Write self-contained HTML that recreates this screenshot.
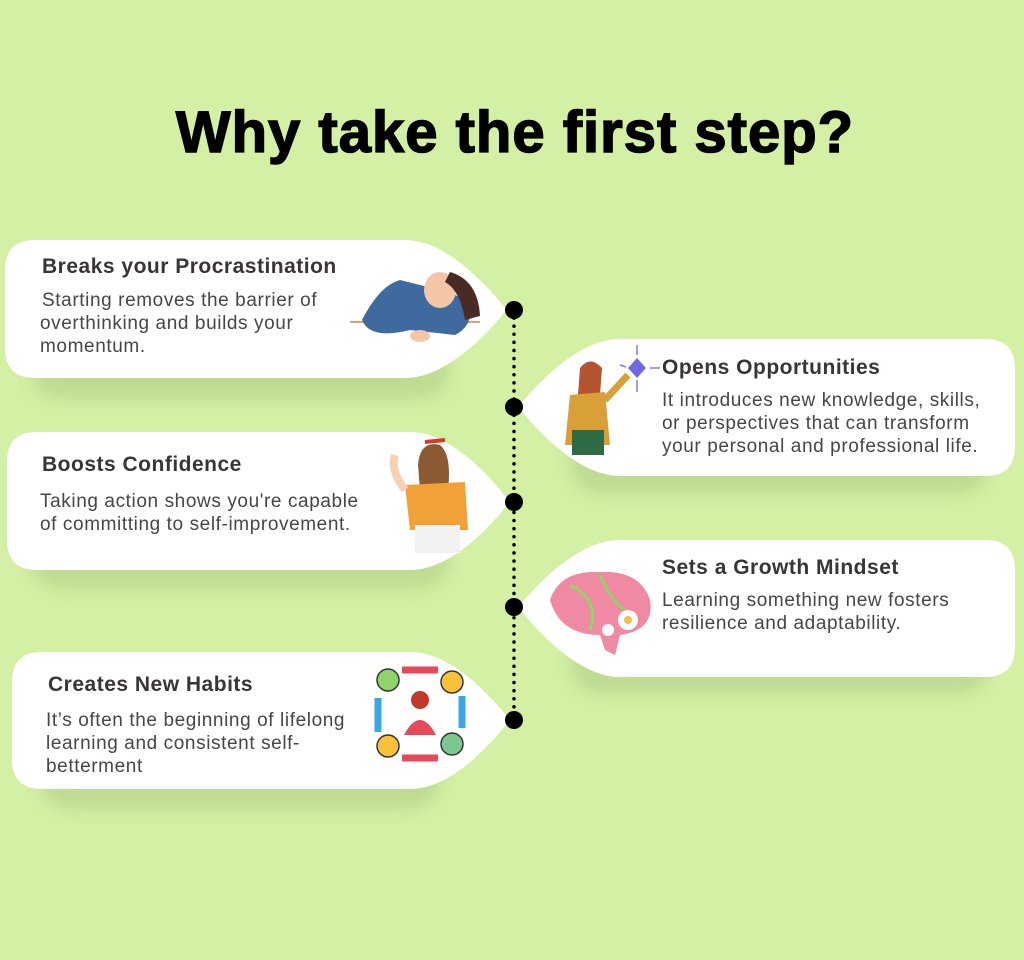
<!DOCTYPE html>
<html><head><meta charset="utf-8"><style>
html,body{margin:0;padding:0;background:#d4f0a5;}
svg{display:block}
.t{font-family:"Liberation Sans",sans-serif;font-weight:bold;fill:#3a3535;font-size:21px;letter-spacing:0.5px}
.b{font-family:"Liberation Sans",sans-serif;fill:#4a4545;font-size:19px;letter-spacing:0.6px}
</style></head><body>
<svg width="1024" height="960" viewBox="0 0 1024 960" xmlns="http://www.w3.org/2000/svg">
<defs><filter id="sh" x="-10%" y="-20%" width="120%" height="160%"><feGaussianBlur stdDeviation="8"/></filter></defs>
<rect width="1024" height="960" fill="#d4f0a5"/>
<text x="515" y="152" text-anchor="middle" font-family="Liberation Sans,sans-serif" font-weight="900" font-size="58" fill="#000" stroke="#000" stroke-width="1.5" letter-spacing="1">Why take the first step?</text>
<g fill="#a9c97f" opacity="0.5" filter="url(#sh)">
<rect x="30" y="330" width="420" height="70" rx="30"/>
<rect x="30" y="520" width="420" height="70" rx="30"/>
<rect x="40" y="740" width="400" height="70" rx="30"/>
<rect x="570" y="425" width="420" height="70" rx="30"/>
<rect x="570" y="625" width="420" height="70" rx="30"/>
</g>
<g fill="#fff">
<path d="M35 240 H405 Q450 240 507 310 Q450 378 405 378 H35 Q5 378 5 348 V270 Q5 240 35 240Z"/>
<path d="M37 432 H410 Q455 432 510 502 Q455 570 410 570 H37 Q7 570 7 540 V462 Q7 432 37 432Z"/>
<path d="M42 652 H410 Q455 652 510 720 Q455 789 410 789 H42 Q12 789 12 759 V682 Q12 652 42 652Z"/>
<path d="M985 339 H620 Q575 339 518 407 Q575 476 620 476 H985 Q1015 476 1015 446 V369 Q1015 339 985 339Z"/>
<path d="M985 540 H620 Q575 540 518 607 Q575 677 620 677 H985 Q1015 677 1015 647 V570 Q1015 540 985 540Z"/>
</g>
<line x1="514" y1="318" x2="514" y2="712" stroke="#000" stroke-width="3.5" stroke-dasharray="0.1 8" stroke-linecap="round"/>
<g fill="#000">
<circle cx="514" cy="310" r="9"/><circle cx="514" cy="407" r="9"/><circle cx="514" cy="502" r="9"/><circle cx="514" cy="607" r="9"/><circle cx="514" cy="720" r="9"/>
</g>
<text class="t" x="42" y="273">Breaks your Procrastination</text>
<text class="b" x="42" y="306"> Starting removes the barrier of</text>
<text class="b" x="40" y="329">overthinking and builds your</text>
<text class="b" x="40" y="352">momentum.</text>
<text class="t" x="42" y="471">Boosts Confidence</text>
<text class="b" x="40" y="507">Taking action shows you're capable</text>
<text class="b" x="40" y="530">of committing to self-improvement.</text>
<text class="t" x="48" y="691">Creates New Habits</text>
<text class="b" x="46" y="726">It’s often the beginning of lifelong</text>
<text class="b" x="46" y="749">learning and consistent self-</text>
<text class="b" x="46" y="772">betterment</text>
<text class="t" x="662" y="374">Opens Opportunities</text>
<text class="b" x="662" y="406">It introduces new knowledge, skills,</text>
<text class="b" x="662" y="429">or perspectives that can transform</text>
<text class="b" x="662" y="452">your personal and professional life.</text>
<text class="t" x="662" y="574">Sets a Growth Mindset</text>
<text class="b" x="662" y="606">Learning something new fosters</text>
<text class="b" x="662" y="629">resilience and adaptability.</text>
<line x1="350" y1="322" x2="480" y2="322" stroke="#d9a36a" stroke-width="2"/>
<path d="M362 320 Q380 285 400 280 L440 290 L470 300 Q475 325 455 335 L410 330 Q370 340 362 320Z" fill="#3f6aa0"/>
<ellipse cx="440" cy="290" rx="16" ry="18" fill="#f5c6a5"/>
<path d="M450 272 Q478 280 480 316 L465 320 Q460 290 445 282Z" fill="#4a2a25"/>
<ellipse cx="420" cy="336" rx="10" ry="6" fill="#f5c6a5"/>
<circle cx="590" cy="375" r="10" fill="#f2c2a0"/>
<path d="M580 368 Q590 355 602 368 L600 395 L578 395Z" fill="#b5542f"/>
<path d="M570 395 L605 392 L610 445 L565 445Z" fill="#d9a03a"/>
<rect x="572" y="430" width="32" height="25" fill="#2f6b45"/>
<path d="M605 400 L628 375" stroke="#d9a03a" stroke-width="7"/>
<path d="M637 358 L646 368 L637 378 L628 368Z" fill="#6f6ae0"/>
<g stroke="#7d7ae8" stroke-width="1.5"><line x1="637" y1="345" x2="637" y2="355"/><line x1="650" y1="368" x2="660" y2="368"/><line x1="637" y1="380" x2="637" y2="392"/><line x1="620" y1="365" x2="626" y2="367"/></g>
<circle cx="432" cy="463" r="13" fill="#f6d2b4"/>
<path d="M418 465 Q420 440 440 445 Q452 455 448 490 L420 490Z" fill="#8a5a35"/>
<path d="M425 442 L445 440" stroke="#d53a2a" stroke-width="4"/>
<path d="M405 485 L465 482 L468 530 L410 530Z" fill="#f0a138"/>
<rect x="415" y="525" width="45" height="28" fill="#f2f2f2"/>
<path d="M405 490 Q390 470 395 455" stroke="#f6d2b4" stroke-width="8" fill="none"/>
<path d="M550 600 Q560 570 600 572 Q640 570 650 600 Q655 630 620 635 L615 655 L605 650 L600 635 Q560 635 550 600Z" fill="#f08aa3"/>
<circle cx="628" cy="620" r="10" fill="#fff"/><circle cx="628" cy="620" r="4" fill="#f2c14a"/>
<circle cx="608" cy="630" r="6" fill="#fff"/>
<path d="M570 585 Q600 600 590 630 M600 575 Q610 600 625 610" stroke="#8fd46a" stroke-width="3" fill="none"/>
<g stroke="#333" stroke-width="1.5">
<circle cx="388" cy="680" r="11" fill="#8fd46a"/>
<circle cx="452" cy="682" r="11" fill="#f7c23a"/>
<circle cx="388" cy="746" r="11" fill="#f7c23a"/>
<circle cx="452" cy="744" r="11" fill="#7ac78f"/>
</g>
<path d="M402 670 L438 670" stroke="#e64a5a" stroke-width="7"/>
<path d="M462 696 L462 728" stroke="#3aa7e0" stroke-width="7"/>
<path d="M438 758 L402 758" stroke="#e64a5a" stroke-width="7"/>
<path d="M378 732 L378 698" stroke="#3aa7e0" stroke-width="7"/>
<circle cx="420" cy="700" r="9" fill="#c0392b"/>
<path d="M404 735 Q420 705 436 735Z" fill="#e64a5a"/>
</svg>
</body></html>
